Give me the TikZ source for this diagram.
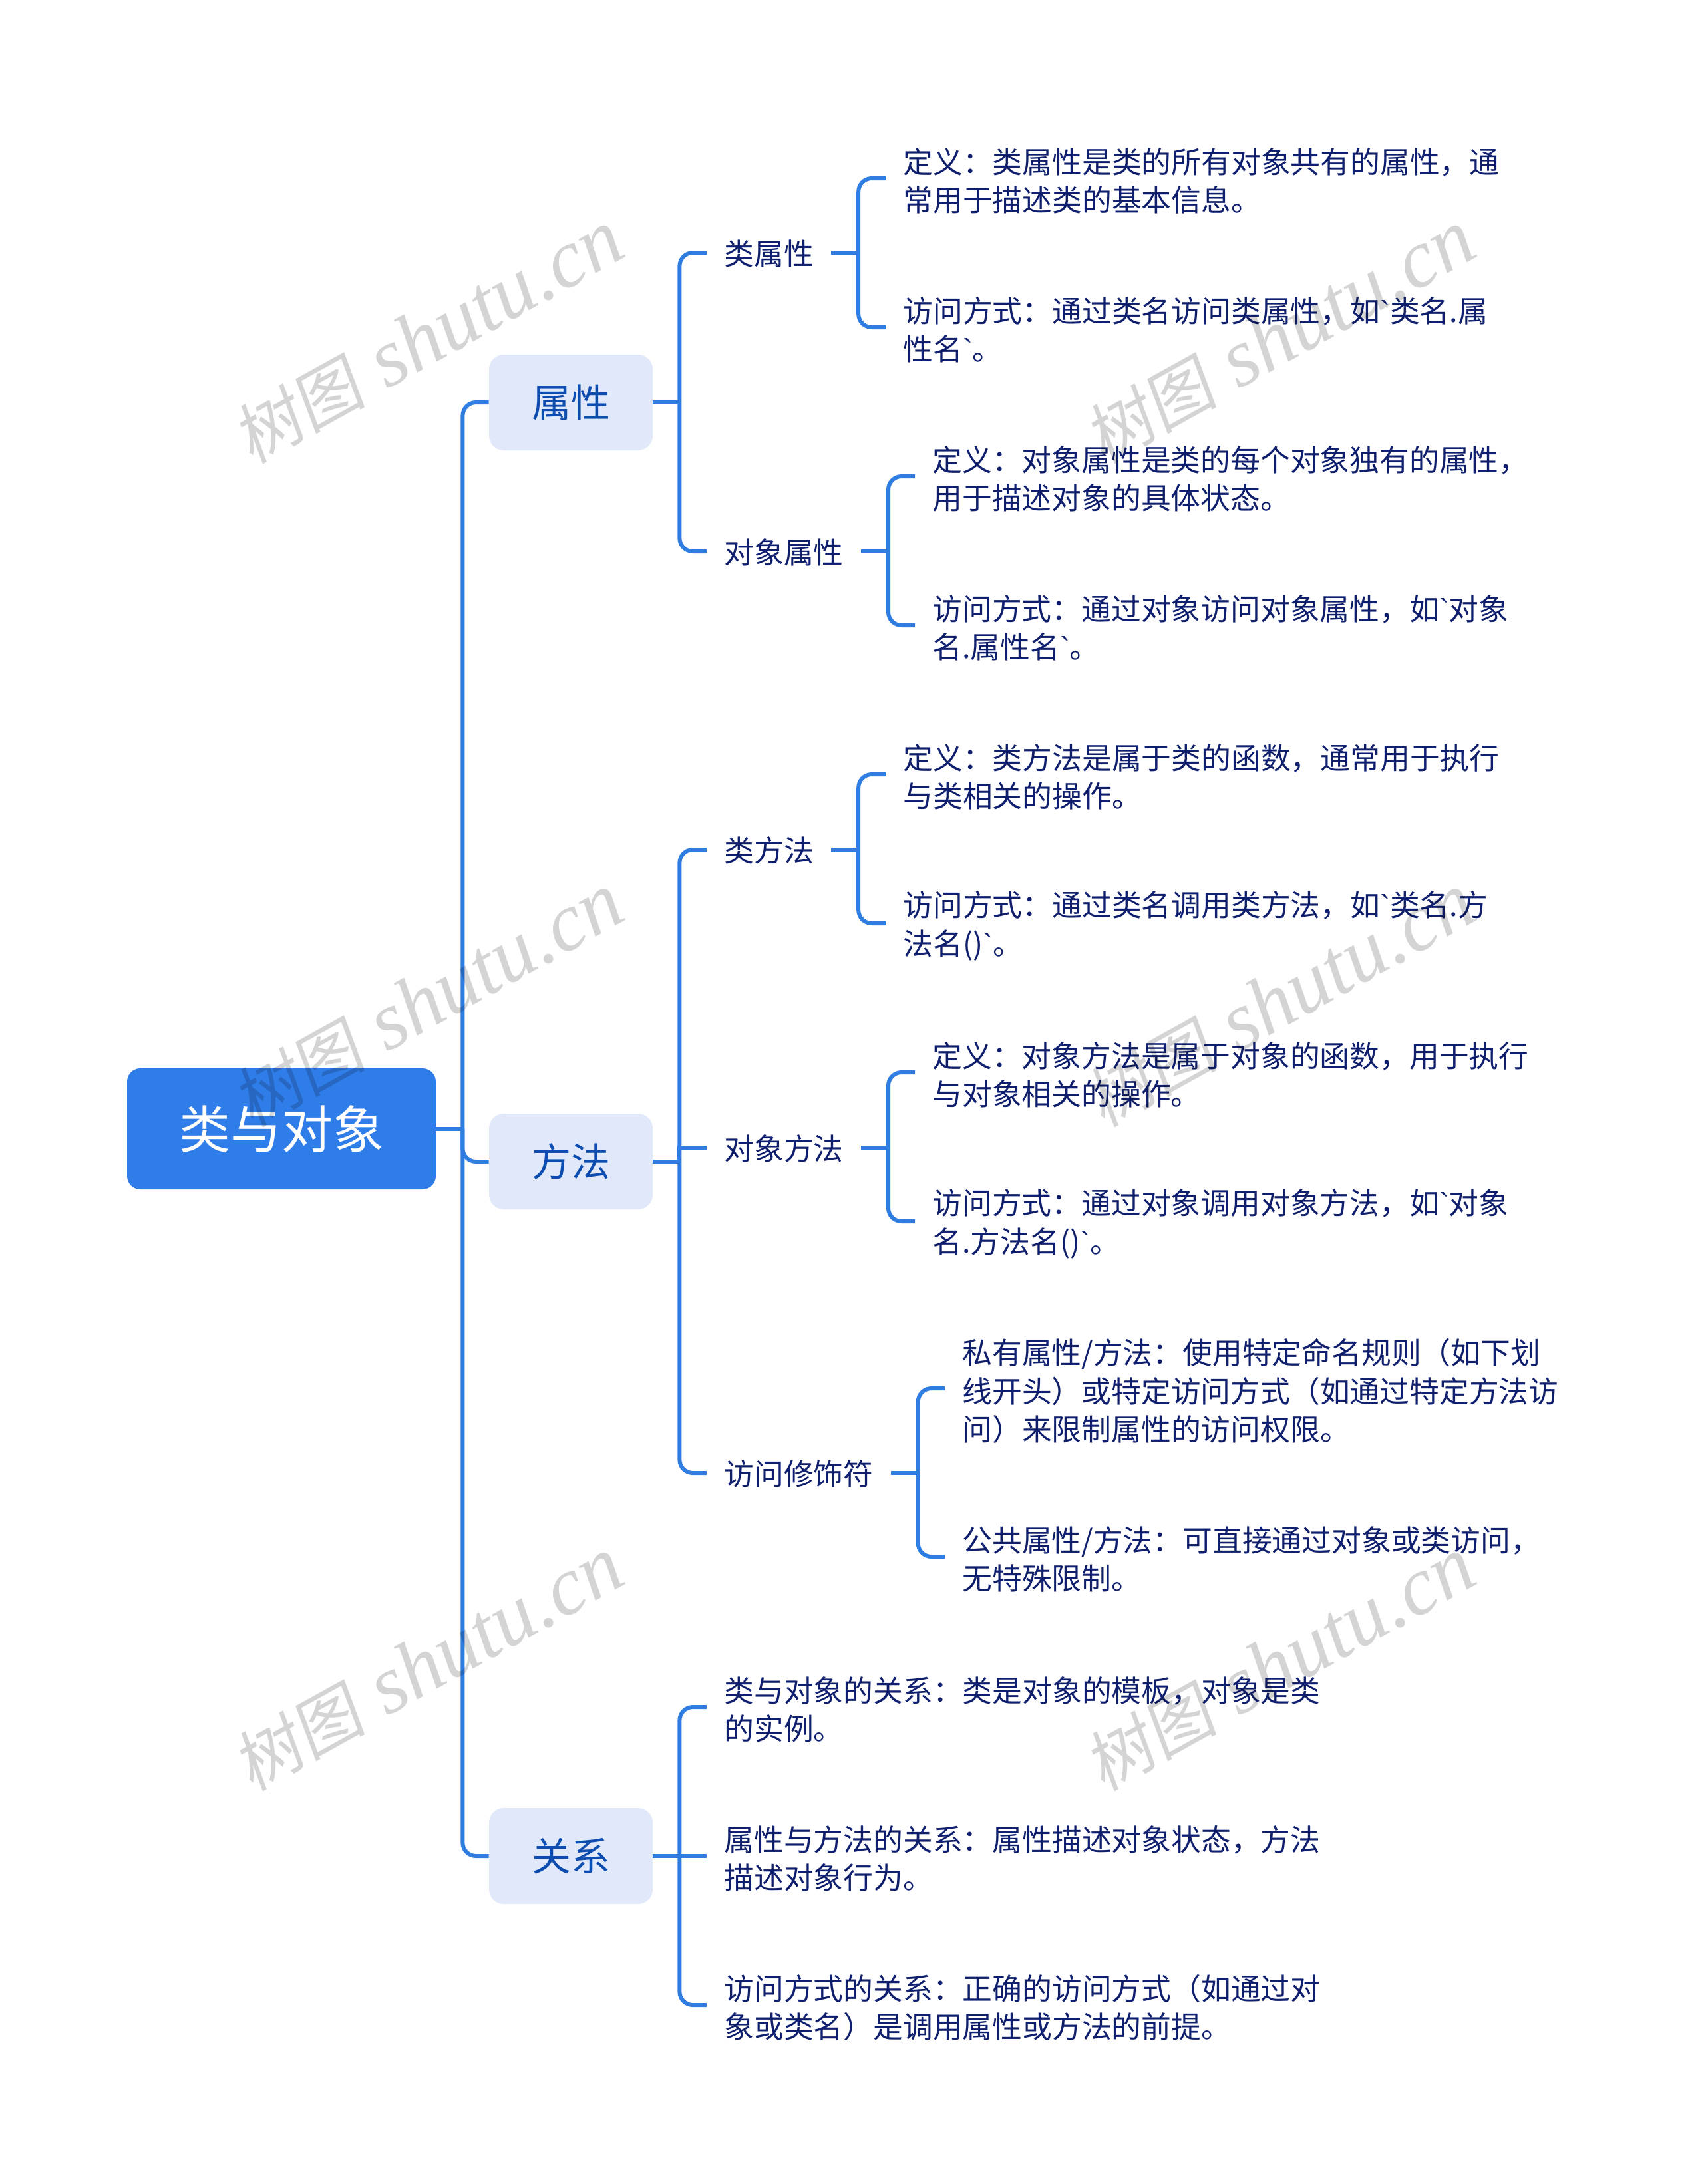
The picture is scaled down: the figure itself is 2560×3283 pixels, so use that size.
\documentclass[tikz,border=0pt]{standalone}
\usepackage{fontspec}
\usepackage{xcolor}
\usetikzlibrary{calc}
\newfontfamily\cjkfont{Noto Sans CJK SC}
\newfontfamily\tickfont{Liberation Sans}
\newfontfamily\markcjk[FakeSlant=0.15]{Noto Sans CJK SC}
\newfontfamily\marklatin{Liberation Serif}
\newcommand{\tick}{{\tickfont`}}
\newcommand{\marktext}{{\markcjk\fontsize{50}{60}\selectfont 树图}\kern16pt{\marklatin\itshape\fontsize{62}{70}\selectfont shutu.cn}}
\definecolor{rootblue}{HTML}{2F7DE9}
\definecolor{linkblue}{HTML}{2F7DE1}
\definecolor{palefill}{HTML}{E1E8FA}
\definecolor{topicink}{HTML}{0D4DB0}
\definecolor{leafink}{HTML}{0F1F6E}
\tikzset{
   rootbox/.style={rectangle,rounded corners=10pt,fill=rootblue,text=white,minimum width=232pt,minimum height=91pt,inner sep=0pt,font=\cjkfont\fontsize{38.5}{46}\selectfont},
   topicbox/.style={rectangle,rounded corners=11pt,fill=palefill,text=topicink,minimum width=123pt,minimum height=72pt,inner sep=0pt,font=\cjkfont\fontsize{29.5}{36}\selectfont},
   leaf/.style={anchor=west,yshift=-2pt,align=left,text=leafink,inner xsep=13pt,inner ysep=0pt,font=\cjkfont\fontsize{22.4}{28.75}\selectfont},
   leafhead/.style={leaf,yshift=2pt,yshift=-0.5pt},
   link/.style={draw=linkblue,line width=3pt},
   curvelink/.style={link,rounded corners=10pt},
   wmark/.style={rotate=29,text=black,text opacity=0.17,inner sep=0pt}
}
\begin{document}
\begin{tikzpicture}[x=0.5pt,y=-0.5pt]
   \useasboundingbox (0,0) rectangle (2560,3283);

   \node[rootbox] (root) at (423,1697) {类与对象};
   \node[topicbox] (attr) at (858,605) {属性};
   \node[topicbox] (meth) at (858,1746) {方法};
   \node[topicbox] (rela) at (858,2790) {关系};

   \node[leafhead] (cattr) at (1062,380) {类属性};
   \node[leafhead] (oattr) at (1062,829) {对象属性};
   \node[leafhead] (cmeth) at (1062,1277) {类方法};
   \node[leafhead] (ometh) at (1062,1725) {对象方法};
   \node[leafhead] (acmod) at (1062,2214) {访问修饰符};

   \node[leaf] (cattra) at (1331,268) {定义：类属性是类的所有对象共有的属性，通\\常用于描述类的基本信息。};
   \node[leaf] (cattrb) at (1331,492) {访问方式：通过类名访问类属性，如\tick 类名.属\\性名\tick。};
   \node[leaf] (oattra) at (1375,716) {定义：对象属性是类的每个对象独有的属性，\\用于描述对象的具体状态。};
   \node[leaf] (oattrb) at (1375,940) {访问方式：通过对象访问对象属性，如\tick 对象\\名.属性名\tick。};
   \node[leaf] (cmetha) at (1331,1164) {定义：类方法是属于类的函数，通常用于执行\\与类相关的操作。};
   \node[leaf] (cmethb) at (1331,1388) {访问方式：通过类名调用类方法，如\tick 类名.方\\法名()\tick。};
   \node[leaf] (ometha) at (1375,1612) {定义：对象方法是属于对象的函数，用于执行\\与对象相关的操作。};
   \node[leaf] (omethb) at (1375,1836) {访问方式：通过对象调用对象方法，如\tick 对象\\名.方法名()\tick。};
   \node[leaf] (acmoda) at (1420,2087) {私有属性/方法：使用特定命名规则（如下划\\线开头）或特定访问方式（如通过特定方法访\\问）来限制属性的访问权限。};
   \node[leaf] (acmodb) at (1420,2340) {公共属性/方法：可直接通过对象或类访问，\\无特殊限制。};
   \node[leaf] (relaa) at (1062,2566) {类与对象的关系：类是对象的模板，对象是类\\的实例。};
   \node[leaf] (relab) at (1062,2790) {属性与方法的关系：属性描述对象状态，方法\\描述对象行为。};
   \node[leaf] (relac) at (1062,3014) {访问方式的关系：正确的访问方式（如通过对\\象或类名）是调用属性或方法的前提。};

   \coordinate (trunkroot) at ([xshift=20pt]root.east);
   \coordinate (trunkattr) at ([xshift=20pt]attr.east);
   \coordinate (trunkmeth) at ([xshift=20pt]meth.east);
   \coordinate (trunkrela) at ([xshift=20pt]rela.east);
   \coordinate (trunkcattr) at ([xshift=20.5pt,yshift=0.5pt]cattr.east);
   \coordinate (trunkoattr) at ([xshift=20.5pt,yshift=0.5pt]oattr.east);
   \coordinate (trunkcmeth) at ([xshift=20.5pt,yshift=0.5pt]cmeth.east);
   \coordinate (trunkometh) at ([xshift=20.5pt,yshift=0.5pt]ometh.east);
   \coordinate (trunkacmod) at ([xshift=20.5pt,yshift=0.5pt]acmod.east);

   \draw[link] (root.east) -- (trunkroot);
   \draw[curvelink] (trunkroot) |- (attr.west);
   \draw[curvelink] (trunkroot) |- (meth.west);
   \draw[curvelink] (trunkroot) |- (rela.west);

   \draw[link] (attr.east) -- (trunkattr);
   \draw[curvelink] (trunkattr) |- ([yshift=0.5pt]cattr.west);
   \draw[curvelink] (trunkattr) |- ([yshift=0.5pt]oattr.west);
   \draw[link] (meth.east) -- (trunkmeth);
   \draw[curvelink] (trunkmeth) |- ([yshift=0.5pt]cmeth.west);
   \draw[link] (trunkmeth) |- ([yshift=0.5pt]ometh.west);
   \draw[curvelink] (trunkmeth) |- ([yshift=0.5pt]acmod.west);
   \draw[link] (rela.east) -- (trunkrela);
   \draw[curvelink] (trunkrela) |- ([yshift=2pt]relaa.west);
   \draw[link] (trunkrela) -- ([yshift=2pt]relab.west);
   \draw[curvelink] (trunkrela) |- ([yshift=2pt]relac.west);

   \draw[link] ([yshift=0.5pt]cattr.east) -- (trunkcattr);
   \draw[curvelink] (trunkcattr) |- ([yshift=2pt]cattra.west);
   \draw[curvelink] (trunkcattr) |- ([yshift=2pt]cattrb.west);
   \draw[link] ([yshift=0.5pt]oattr.east) -- (trunkoattr);
   \draw[curvelink] (trunkoattr) |- ([yshift=2pt]oattra.west);
   \draw[curvelink] (trunkoattr) |- ([yshift=2pt]oattrb.west);
   \draw[link] ([yshift=0.5pt]cmeth.east) -- (trunkcmeth);
   \draw[curvelink] (trunkcmeth) |- ([yshift=2pt]cmetha.west);
   \draw[curvelink] (trunkcmeth) |- ([yshift=2pt]cmethb.west);
   \draw[link] ([yshift=0.5pt]ometh.east) -- (trunkometh);
   \draw[curvelink] (trunkometh) |- ([yshift=2pt]ometha.west);
   \draw[curvelink] (trunkometh) |- ([yshift=2pt]omethb.west);
   \draw[link] ([yshift=0.5pt]acmod.east) -- (trunkacmod);
   \draw[curvelink] (trunkacmod) |- ([yshift=2pt]acmoda.west);
   \draw[curvelink] (trunkacmod) |- ([yshift=2pt]acmodb.west);

   \node[wmark] (marka) at (643,507) {\marktext};
   \node[wmark] (markb) at (1923,507) {\marktext};
   \node[wmark] (markc) at (643,1504) {\marktext};
   \node[wmark] (markd) at (1923,1504) {\marktext};
   \node[wmark] (marke) at (643,2502) {\marktext};
   \node[wmark] (markf) at (1923,2502) {\marktext};
\end{tikzpicture}
\end{document}
